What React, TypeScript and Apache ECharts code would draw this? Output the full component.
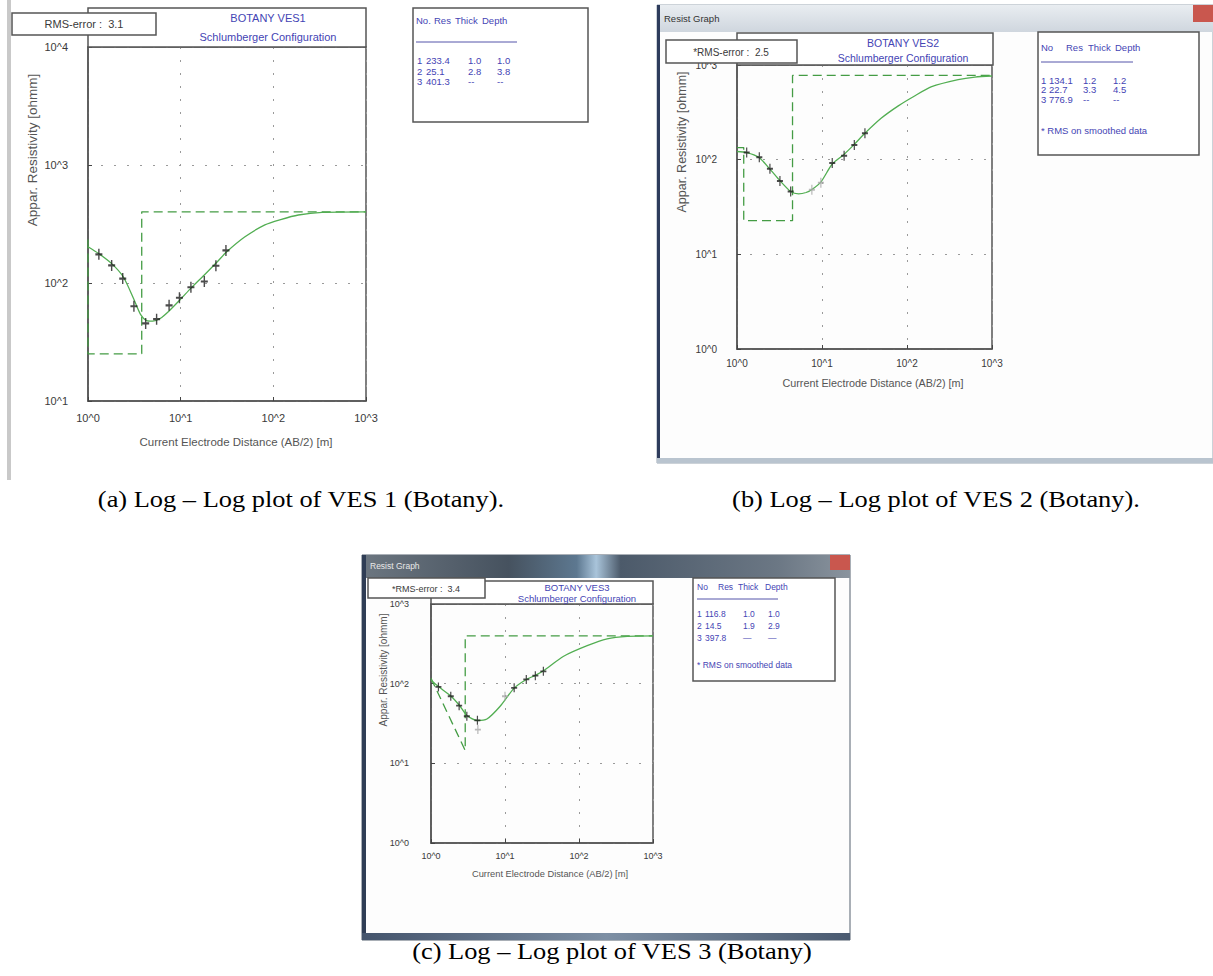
import React, { useEffect, useRef } from 'react';
import * as echarts from 'echarts';

// ---------------- data ----------------
const xTickLabels = ['10^0', '10^1', '10^2', '10^3'];
const yTickLabelsA = ['10^1', '10^2', '10^3', '10^4'];
const yTickLabelsB = ['10^0', '10^1', '10^2', '10^3'];
const yTickLabelsC = ['10^0', '10^1', '10^2', '10^3'];

// VES 1
const ves1FieldAB2 = [1.31, 1.8, 2.37, 3.13, 4.19, 5.5, 7.5, 9.7, 12.9, 18, 24, 30.8];
const ves1FieldRho = [175, 141, 109, 63.5, 45.4, 49.4, 64.7, 75, 92, 103, 140, 189];
const ves1CurveAB2 = [1, 1.3, 1.8, 2.4, 3.1, 3.7, 4.3, 5, 6, 7.5, 10, 13, 18, 25, 31, 49, 81, 120, 186, 336, 1000];
const ves1CurveRho = [203, 178, 146, 113, 74, 54, 48, 47.5, 50, 58, 73, 91, 117, 152, 182, 245, 311, 345, 377, 397, 401];
const ves1ModelAB2 = [1, 1, 3.8, 3.8, 1000];
const ves1ModelRho = [233.4, 25.1, 25.1, 401.3, 401.3];
const ves1LayerNo = ['1', '2', '3'];
const ves1LayerRes = ['233.4', '25.1', '401.3'];
const ves1LayerThick = ['1.0', '2.8', '--'];
const ves1LayerDepth = ['1.0', '3.8', '--'];
const ves1Rms = '3.1';

// VES 2
const ves2FieldAB2 = [1.3, 1.83, 2.44, 3.2, 4.28, 13.2, 18.2, 24, 32];
const ves2FieldRho = [119, 106, 80, 59.6, 46, 92, 110, 143, 190];
const ves2MaskedAB2 = [7.6, 9.7];
const ves2MaskedRho = [48, 57];
const ves2CurveAB2 = [1, 1.3, 1.8, 2.4, 3.2, 4.3, 5.3, 6.5, 7.6, 9.7, 13.2, 18, 24, 32, 50, 79, 120, 195, 400, 630, 1000];
const ves2CurveRho = [122, 119, 106, 81, 60, 46, 43.5, 45, 48.5, 58, 90, 113, 145, 190, 275, 370, 465, 590, 700, 745, 765];
const ves2ModelAB2 = [1, 1.2, 1.2, 4.5, 4.5, 1000];
const ves2ModelRho = [134.1, 134.1, 22.7, 22.7, 776.9, 776.9];
const ves2LayerNo = ['1', '2', '3'];
const ves2LayerRes = ['134.1', '22.7', '776.9'];
const ves2LayerThick = ['1.2', '3.3', '--'];
const ves2LayerDepth = ['1.2', '4.5', '--'];
const ves2Rms = '2.5';

// VES 3
const ves3FieldAB2 = [1.26, 1.85, 2.4, 3.05, 4.24, 13.3, 19.4, 25.7, 33];
const ves3FieldRho = [91, 69.5, 53, 39, 34.7, 88.6, 113, 126, 143];
const ves3MaskedAB2 = [4.3, 10];
const ves3MaskedRho = [26.5, 69.5];
const ves3CurveAB2 = [1, 1.26, 1.85, 2.4, 3.05, 4.2, 5.7, 8.6, 13.3, 19.4, 25.7, 33, 62, 129, 240, 448, 1000];
const ves3CurveRho = [110, 92, 70, 54, 40, 34.5, 36, 52, 88, 113, 127, 145, 221, 300, 365, 392, 398];
const ves3ModelAB2 = [1, 2.9, 2.9, 1000];
const ves3ModelRho = [116.8, 14.5, 397.8, 397.8];
const ves3LayerNo = ['1', '2', '3'];
const ves3LayerRes = ['116.8', '14.5', '397.8'];
const ves3LayerThick = ['1.0', '1.9', '\u2014'];
const ves3LayerDepth = ['1.0', '2.9', '\u2014'];
const ves3Rms = '3.4';

const captions = [
  '(a) Log \u2013 Log plot of VES 1 (Botany).',
  '(b) Log \u2013 Log plot of VES 2 (Botany).',
  '(c) Log \u2013 Log plot of VES 3 (Botany)',
];
const tableHeader = ['No.', 'Res', 'Thick', 'Depth'];
const tableHeader2 = ['No', 'Res', 'Thick', 'Depth'];

// ---------------- styling / layout ----------------
const FONT = '"Liberation Sans", Arial, sans-serif';
const SERIF = '"Liberation Serif", "Times New Roman", serif';
const GREEN = '#52ae52';
const GREEN_DASH = '#449c44';
const BLUE = '#4444b4';
const INK = '#3a3a3a';
const FRAME = '#555555';
const PLUS = 'path://M4,0H6V4H10V6H6V10H4V6H0V4H4Z';

const pair = (xs: number[], ys: number[]) => xs.map((x, i) => [x, ys[i]]);

function txt(x: number, y: number, text: string, size: number, o: any = {}) {
  const align = o.align || 'center';
  return {
    type: 'text',
    x,
    y,
    z: o.z ?? 20,
    rotation: o.rot || 0,
    scaleX: o.sx || 1,
    silent: true,
    style: {
      text,
      x: 0,
      y: 0,
      fill: o.color || INK,
      fontSize: size,
      fontFamily: o.family || FONT,
      fontWeight: o.weight || 'normal',
      align,
      textAlign: align,
      verticalAlign: 'middle',
      textVerticalAlign: 'middle',
    },
  };
}
function rect(x: number, y: number, w: number, h: number, style: any, z = 10) {
  return { type: 'rect', z, silent: true, shape: { x, y, width: w, height: h }, style };
}
function hline(x1: number, x2: number, y: number, stroke: string, lw = 1, z = 12) {
  return { type: 'line', z, silent: true, shape: { x1, y1: y, x2, y2: y }, style: { stroke, lineWidth: lw } };
}

const panels = [
  {
    grid: { left: 88, top: 47, width: 278, height: 354 },
    yMin: 10, yMax: 10000, yLabels: yTickLabelsA, yMinExp: 1,
    tick: 11, xMargin: 11, yMargin: 20,
    field: pair(ves1FieldAB2, ves1FieldRho), masked: [],
    curve: pair(ves1CurveAB2, ves1CurveRho), model: pair(ves1ModelAB2, ves1ModelRho),
    sym: [7, 11],
    title: { name: 'BOTANY VES1', cx: 268, y1: 18, y2: 37, size: 11, box: [88, 8, 278, 39] },
    rms: { text: 'RMS-error :  ' + ves1Rms, box: [12, 13, 144, 22], tx: 84, ty: 24, size: 11 },
    yName: { x: 32, y: 150, size: 13.5 },
    xName: { x: 236, y: 442, size: 11.5 },
    table: {
      box: [413, 8, 175, 114], size: 9.5, header: tableHeader, hy: 20, hx: [416, 434, 455, 482],
      sep: [416, 517, 42], ry: [60, 71, 81], rx: [417, 426, 468, 497],
      rows: [ves1LayerNo, ves1LayerRes, ves1LayerThick, ves1LayerDepth], note: null,
    },
    caption: { text: captions[0], x: 301, y: 499 },
  },
  {
    grid: { left: 737, top: 65, width: 255, height: 284 },
    yMin: 1, yMax: 1000, yLabels: yTickLabelsB, yMinExp: 0,
    tick: 10, xMargin: 9, yMargin: 20,
    field: pair(ves2FieldAB2, ves2FieldRho), masked: pair(ves2MaskedAB2, ves2MaskedRho),
    curve: pair(ves2CurveAB2, ves2CurveRho), model: pair(ves2ModelAB2, ves2ModelRho),
    sym: [6, 10],
    title: { name: 'BOTANY VES2', cx: 903, y1: 43, y2: 58, size: 10.5, box: [737, 33, 256, 32] },
    rms: { text: '*RMS-error :  ' + ves2Rms, box: [666, 40, 131, 23], tx: 731, ty: 52, size: 10 },
    yName: { x: 682, y: 142, size: 12.5 },
    xName: { x: 873, y: 383, size: 10.8 },
    table: {
      box: [1038, 32, 161, 123], size: 9.5, header: tableHeader2, hy: 47, hx: [1041, 1066, 1088, 1115],
      sep: [1041, 1133, 62], ry: [80, 89.5, 99], rx: [1041, 1049, 1083, 1113],
      rows: [ves2LayerNo, ves2LayerRes, ves2LayerThick, ves2LayerDepth],
      note: { text: '* RMS on smoothed data', x: 1041, y: 130 },
    },
    caption: { text: captions[1], x: 936, y: 499 },
  },
  {
    grid: { left: 431, top: 604, width: 222, height: 239 },
    yMin: 1, yMax: 1000, yLabels: yTickLabelsC, yMinExp: 0,
    tick: 9, xMargin: 8, yMargin: 22,
    field: pair(ves3FieldAB2, ves3FieldRho), masked: pair(ves3MaskedAB2, ves3MaskedRho),
    curve: pair(ves3CurveAB2, ves3CurveRho), model: pair(ves3ModelAB2, ves3ModelRho),
    sym: [6, 9],
    title: { name: 'BOTANY VES3', cx: 577, y1: 587, y2: 598, size: 9.5, box: [431, 581, 222, 23] },
    rms: { text: '*RMS-error :  ' + ves3Rms, box: [368, 578, 117, 20], tx: 426, ty: 589, size: 9 },
    yName: { x: 383, y: 670, size: 10 },
    xName: { x: 550, y: 874, size: 9.3 },
    table: {
      box: [693, 578, 142, 103], size: 8.5, header: tableHeader2, hy: 587, hx: [697, 718, 738, 765],
      sep: [697, 778, 599], ry: [614, 626, 638], rx: [697, 705, 743, 768],
      rows: [ves3LayerNo, ves3LayerRes, ves3LayerThick, ves3LayerDepth],
      note: { text: '* RMS on smoothed data', x: 697, y: 665 },
    },
    caption: { text: captions[2], x: 612, y: 951 },
  },
];

function buildOption() {
  const grid: any[] = [];
  const xAxis: any[] = [];
  const yAxis: any[] = [];
  const series: any[] = [];
  const graphic: any[] = [];

  // window chrome
  graphic.push(rect(7, 0, 4, 480, { fill: '#c9c9c9' }, -5));
  // window b
  graphic.push(rect(657, 5, 556, 458, { fill: '#fdfdfd', stroke: '#9aa6b2', lineWidth: 1 }, -6));
  graphic.push(rect(657, 5, 556, 27, {
    fill: new echarts.graphic.LinearGradient(0, 0, 0, 1, [
      { offset: 0, color: '#e9edf1' },
      { offset: 1, color: '#cfd6de' },
    ]),
  }, -5));
  graphic.push(rect(657, 5, 3, 458, { fill: '#2e3c5c' }, -4));
  graphic.push(rect(657, 458, 556, 5, { fill: '#b9c4cf' }, -4));
  graphic.push(rect(1193, 5, 20, 17, { fill: '#c9574e' }, -4));
  graphic.push(txt(664, 18, 'Resist Graph', 9.5, { align: 'left', color: '#333', z: -3 }));
  // window c
  graphic.push(rect(362, 555, 488, 385, { fill: '#fdfdfd', stroke: '#55606e', lineWidth: 1 }, -6));
  graphic.push(rect(362, 555, 488, 23, {
    fill: new echarts.graphic.LinearGradient(0, 0, 1, 0, [
      { offset: 0, color: '#6c7680' },
      { offset: 0.3, color: '#46525f' },
      { offset: 0.44, color: '#5d7890' },
      { offset: 0.48, color: '#a9c4da' },
      { offset: 0.53, color: '#4c5a6a' },
      { offset: 0.85, color: '#6b7784' },
      { offset: 1, color: '#8a949e' },
    ]),
  }, -5));
  graphic.push(rect(362, 555, 4, 385, { fill: '#2f3d55' }, -4));
  graphic.push(rect(362, 933, 488, 7, {
    fill: new echarts.graphic.LinearGradient(0, 0, 1, 0, [
      { offset: 0, color: '#44546c' },
      { offset: 0.5, color: '#7d8fa4' },
      { offset: 1, color: '#4a5a70' },
    ]),
  }, -4));
  graphic.push(rect(830, 555, 20, 15, { fill: '#c9574e' }, -4));
  graphic.push(txt(370, 566, 'Resist Graph', 8.5, { align: 'left', color: '#e8e8e8', z: -3 }));

  panels.forEach((p, i) => {
    grid.push({
      ...p.grid,
      containLabel: false,
      show: true,
      borderColor: FRAME,
      borderWidth: 1.5,
      backgroundColor: 'transparent',
    });
    const labelStyle = { color: INK, fontSize: p.tick, fontFamily: FONT };
    const split = { show: true, lineStyle: { color: '#9a9a9a', type: [2, 11], width: 1 } };
    xAxis.push({
      type: 'log', logBase: 10, min: 1, max: 1000, gridIndex: i,
      axisLine: { show: true, lineStyle: { color: FRAME, width: 1.5 } },
      axisTick: { show: true, inside: true, length: 4, lineStyle: { color: '#444' } },
      axisLabel: {
        ...labelStyle, margin: p.xMargin,
        formatter: (v: number) => xTickLabels[Math.round(Math.log10(v))] ?? '',
      },
      splitLine: split,
    });
    yAxis.push({
      type: 'log', logBase: 10, min: p.yMin, max: p.yMax, gridIndex: i,
      axisLine: { show: true, lineStyle: { color: FRAME, width: 1.5 } },
      axisTick: { show: true, inside: true, length: 4, lineStyle: { color: '#444' } },
      axisLabel: {
        ...labelStyle, margin: p.yMargin,
        formatter: (v: number) => p.yLabels[Math.round(Math.log10(v)) - p.yMinExp] ?? '',
      },
      splitLine: split,
    });
    series.push({
      type: 'line', xAxisIndex: i, yAxisIndex: i, data: p.model, symbol: 'none', z: 3,
      lineStyle: { color: GREEN_DASH, width: 1.3, type: [9, 5] },
    });
    series.push({
      type: 'line', xAxisIndex: i, yAxisIndex: i, data: p.curve, symbol: 'none', z: 4,
      smooth: 0.25,
      lineStyle: { color: GREEN, width: 1.3 },
    });
    if (p.masked.length) {
      series.push({
        type: 'scatter', xAxisIndex: i, yAxisIndex: i, data: p.masked, z: 5,
        symbol: PLUS, symbolSize: p.sym, itemStyle: { color: '#a8a8a8' },
      });
    }
    series.push({
      type: 'scatter', xAxisIndex: i, yAxisIndex: i, data: p.field, z: 6,
      symbol: PLUS, symbolSize: p.sym, itemStyle: { color: '#1e1e1e' },
    });

    // title box
    const tb = p.title.box;
    graphic.push(rect(tb[0], tb[1], tb[2], tb[3], { fill: '#ffffff', stroke: FRAME, lineWidth: 1.5 }, 1));
    graphic.push(txt(p.title.cx, p.title.y1, p.title.name, p.title.size, { color: BLUE }));
    graphic.push(txt(p.title.cx, p.title.y2, 'Schlumberger Configuration', p.title.size, { color: BLUE }));
    // rms box
    const rb = p.rms.box;
    graphic.push(rect(rb[0], rb[1], rb[2], rb[3], { fill: '#ffffff', stroke: FRAME, lineWidth: 1.5 }, 10));
    graphic.push(txt(p.rms.tx, p.rms.ty, p.rms.text, p.rms.size, { color: INK }));
    // axis names
    graphic.push(txt(p.yName.x, p.yName.y, 'Appar. Resistivity [ohmm]', p.yName.size, { rot: Math.PI / 2, color: '#555' }));
    graphic.push(txt(p.xName.x, p.xName.y, 'Current Electrode Distance (AB/2) [m]', p.xName.size, { color: '#555' }));
    // table
    const t = p.table;
    graphic.push(rect(t.box[0], t.box[1], t.box[2], t.box[3], { fill: '#ffffff', stroke: FRAME, lineWidth: 1.5 }, 10));
    t.header.forEach((h: string, k: number) => graphic.push(txt(t.hx[k], t.hy, h, t.size, { align: 'left', color: BLUE })));
    graphic.push(hline(t.sep[0], t.sep[1], t.sep[2], '#5555aa', 1));
    t.rows[0].forEach((_: string, r: number) => {
      t.rows.forEach((col: string[], k: number) => {
        graphic.push(txt(t.rx[k], t.ry[r], col[r], t.size, { align: 'left', color: BLUE }));
      });
    });
    if (t.note) graphic.push(txt(t.note.x, t.note.y, t.note.text, t.size, { align: 'left', color: BLUE }));
    // caption
    graphic.push(txt(p.caption.x, p.caption.y, p.caption.text, 24, { family: SERIF, color: '#000', sx: 1.1 }));
  });

  return {
    animation: false,
    backgroundColor: '#ffffff',
    grid,
    xAxis,
    yAxis,
    series,
    graphic: { elements: graphic },
  };
}

export default function App() {
  const ref = useRef<HTMLDivElement>(null);
  useEffect(() => {
    if (!ref.current) return;
    const chart = echarts.init(ref.current, undefined, { renderer: 'svg' });
    chart.setOption(buildOption() as any);
    return () => chart.dispose();
  }, []);
  return (
    <div
      ref={ref}
      style={{ position: 'absolute', left: 0, top: 0, width: 1213, height: 976, background: '#fff' }}
    />
  );
}
